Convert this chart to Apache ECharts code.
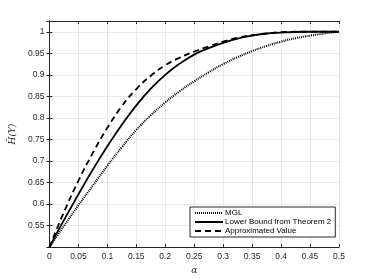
<!DOCTYPE html>
<html>
<head>
<meta charset="utf-8">
<script src="https://cdn.jsdelivr.net/npm/echarts@6/dist/echarts.min.js"></script>
<style>
html,body{margin:0;padding:0;background:#fff;}
#c{width:374px;height:280px;}
</style>
</head>
<body>
<div id="c"></div>
<script>
var alpha  = [0,0.025,0.05,0.075,0.1,0.125,0.15,0.175,0.2,0.225,0.25,0.275,0.3,0.325,0.35,0.375,0.4,0.425,0.45,0.475,0.5];
var mgl    = [0.5,0.549,0.597,0.643,0.689,0.732,0.772,0.806,0.836,0.862,0.885,0.906,0.925,0.941,0.955,0.967,0.977,0.985,0.991,0.996,1.0];
var lower  = [0.5,0.5625,0.6225,0.680,0.734,0.784,0.829,0.868,0.900,0.926,0.947,0.962,0.974,0.984,0.991,0.996,0.998,0.9995,1.0,1.0,1.0];
var approx = [0.5,0.581,0.654,0.719,0.777,0.827,0.867,0.898,0.922,0.940,0.954,0.966,0.977,0.986,0.992,0.996,0.999,1.0,1.0,1.0,1.0];
var names = ['MGL','Lower Bound from Theorem 2','Approximated Value'];
var xTicks = {min:0, max:0.5, interval:0.05};
var yTicks = {min:0.5, max:1.025, interval:0.05};

function pairs(ys){ return alpha.map(function(a,i){ return [a, ys[i]]; }); }

var axisColor = '#262626';
var font = 'Liberation Sans, Arial, Helvetica, sans-serif';
var chart = echarts.init(document.getElementById('c'), null, {renderer:'canvas'});
chart.setOption({
  animation:false,
  backgroundColor:'#fff',
  grid:{left:48, right:35, top:21, bottom:31},
  legend:{
    orient:'vertical', left:190, top:207,
    backgroundColor:'#fff', borderColor:axisColor, borderWidth:1,
    padding:[2,4,2,4], itemWidth:28, itemHeight:9, itemGap:1,
    itemStyle:{color:'rgba(0,0,0,0)', borderColor:'rgba(0,0,0,0)', borderWidth:0},
    textStyle:{fontSize:8, color:'#000', fontFamily:font, padding:[0,0,0,-3]},
    data:names
  },
  xAxis:[{
    type:'value', min:xTicks.min, max:xTicks.max, interval:xTicks.interval,
    name:'α', nameLocation:'middle', nameGap:16,
    nameTextStyle:{fontSize:9, fontStyle:'italic', fontFamily:'DejaVu Serif, serif', color:axisColor},
    axisLine:{lineStyle:{color:axisColor, width:1}},
    axisTick:{inside:true, length:3, lineStyle:{color:axisColor}},
    axisLabel:{fontSize:8.5, color:axisColor, fontFamily:font, margin:5},
    splitLine:{show:true, lineStyle:{color:'#e8e8e8', width:1}}
  },{
    type:'value', position:'top', min:xTicks.min, max:xTicks.max, interval:xTicks.interval,
    axisLine:{lineStyle:{color:axisColor, width:1}},
    axisTick:{inside:true, length:3, lineStyle:{color:axisColor}},
    axisLabel:{show:false}, splitLine:{show:false}
  }],
  yAxis:[{
    type:'value', min:yTicks.min, max:yTicks.max, interval:yTicks.interval,
    name:'H̄(Y)', nameLocation:'middle', nameGap:32, nameRotate:90,
    nameTextStyle:{fontSize:9, fontStyle:'italic', fontFamily:'DejaVu Serif, serif', color:axisColor},
    axisLine:{lineStyle:{color:axisColor, width:1}},
    axisTick:{inside:true, length:3, lineStyle:{color:axisColor}},
    axisLabel:{fontSize:8.5, color:axisColor, fontFamily:font, margin:5, showMinLabel:false, showMaxLabel:false},
    splitLine:{show:true, lineStyle:{color:'#e8e8e8', width:1}}
  },{
    type:'value', position:'right', min:yTicks.min, max:yTicks.max, interval:yTicks.interval,
    axisLine:{show:true, lineStyle:{color:axisColor, width:1}},
    axisTick:{show:true, inside:true, length:3, lineStyle:{color:axisColor}},
    axisLabel:{show:false}, splitLine:{show:false}
  }],
  series:[
    {name:names[0], type:'line', data:pairs(mgl), smooth:true, symbol:'none',
     lineStyle:{color:'#000', width:2, type:[1,1]}, itemStyle:{color:'#000'}},
    {name:names[1], type:'line', data:pairs(lower), smooth:true, symbol:'none',
     lineStyle:{color:'#000', width:1.8, type:'solid'}, itemStyle:{color:'#000'}},
    {name:names[2], type:'line', data:pairs(approx), smooth:true, symbol:'none',
     lineStyle:{color:'#000', width:1.8, type:[6,4]}, itemStyle:{color:'#000'}}
  ]
});
</script>
</body>
</html>
